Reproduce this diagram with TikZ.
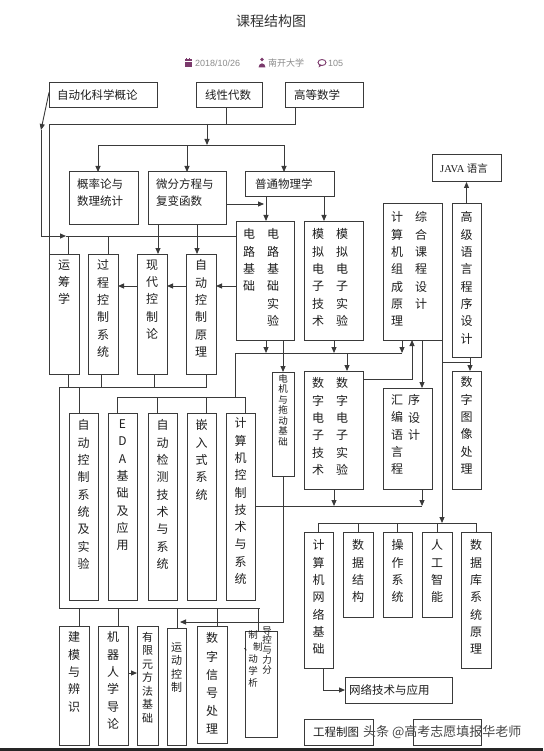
\documentclass[tikz,border=0pt]{standalone}
\usepackage{fontspec}
\setmainfont{Liberation Sans}
\newfontfamily\cjk{Noto Sans CJK SC}
\newfontfamily\serifj{Liberation Serif}
\usetikzlibrary{arrows.meta}
\definecolor{lc}{HTML}{3A3A3A}
\definecolor{tx}{HTML}{1E1E1E}
\definecolor{pu}{HTML}{7B3A6C}
\definecolor{gr}{HTML}{8C8C8C}
\newcommand\Bx[5]{\node[box, minimum width={(#4-#2)*1pt}, minimum height={(#5-#3)*1pt}] (#1) at ({(#2+#4)/2},{(#3+#5)/2}) {};}
\tikzset{
  box/.style={draw=lc, line width=1pt, inner sep=0pt, outer sep=0pt},
  vt/.style={text=tx, align=center, anchor=north, inner sep=0pt, yshift=5.4pt, font=\cjk\fontsize{12}{17.3}\selectfont},
  vts/.style={vt, yshift=5pt, font=\cjk\fontsize{11}{13.5}\selectfont},
  vtx/.style={vt, yshift=4.3pt, font=\cjk\fontsize{9.5}{10.5}\selectfont},
  ht/.style={text=tx, anchor=west, inner sep=0pt, align=left, font=\cjk\fontsize{11.5}{16.5}\selectfont},
  wire/.style={draw=lc, line width=0.9pt},
  arr/.style={wire, -{Triangle[length=6pt,width=5pt]}},
  meta/.style={text=gr, anchor=west, inner sep=0pt, font=\fontsize{9}{9}\selectfont},
}
\begin{document}
\begin{tikzpicture}[x=1pt,y=-1pt]
\useasboundingbox (0,0) rectangle (543,751);
\fill[white] (0,0) rectangle (543,751);
% title and meta
\node[text=black!80, inner sep=0pt, font=\cjk\fontsize{14}{14}\selectfont] (title) at (271,21) {课程结构图};
\fill[pu] (184.5,59.5) rectangle (191.5,67);
\draw[white, line width=0.6pt] (184.5,61.5) -- (191.5,61.5);
\fill[pu] (186,58) rectangle (187,60); \fill[pu] (189,58) rectangle (190,60);
\node[meta] (date) at (195,63) {2018/10/26};
\fill[pu] (262,59.5) circle (1.9);
\fill[pu] (258.6,67.3) arc[start angle=180, end angle=360, x radius=3.4, y radius=4];
\node[meta, font=\cjk\fontsize{9}{9}\selectfont] (uni) at (268,63) {南开大学};
\draw[pu, line width=0.9pt] (322,62.5) ellipse (4 and 3);
\fill[pu] (319.5,64.5) -- (318.5,67.5) -- (322,65.3) -- cycle;
\node[meta] (cnt) at (328,63) {105};
% top row
\Bx{auto}{49}{83}{157}{108}
\node[ht] (t-auto) at (57,95.5) {自动化科学概论};
\Bx{xxds}{196}{83}{262}{108}
\node[ht] (t-xxds) at (205,95.5) {线性代数};
\Bx{gdsx}{285}{83}{363}{108}
\node[ht] (t-gdsx) at (294,95.5) {高等数学};
% second row
\Bx{gl}{69}{172}{138}{224}
\node[ht, anchor=north west] (t-gl) at (77,179) {概率论与\\数理统计};
\Bx{wf}{148}{172}{226}{224}
\node[ht, anchor=north west] (t-wf) at (156,179) {微分方程与\\复变函数};
\Bx{wl}{245}{172}{334}{197}
\node[ht] (t-wl) at (255,184.5) {普通物理学};
\Bx{java}{432}{155}{501}{182}
\node[ht] (t-java) at (440,168.5) {{\serifj\fontsize{10.5}{10}\selectfont JAVA} {\fontsize{10.5}{10}\selectfont 语言}};
% third row
\Bx{dl}{236}{221}{294}{340}
\node[vt] (t-dl1) at (249,234) {电\\路\\基\\础};
\node[vt] (t-dl2) at (273,234) {电\\路\\基\\础\\实\\验};
\Bx{mn}{304}{221}{363}{340}
\node[vt] (t-mn1) at (318,234) {模\\拟\\电\\子\\技\\术};
\node[vt] (t-mn2) at (342,234) {模\\拟\\电\\子\\实\\验};
\Bx{jz}{383}{204}{442}{340}
\node[vt] (t-jz1) at (397,217) {计\\算\\机\\组\\成\\原\\理};
\node[vt] (t-jz2) at (421,217) {综\\合\\课\\程\\设\\计};
\Bx{gj}{452}{204}{481}{357}
\node[vt] (t-gj) at (466.5,217) {高\\级\\语\\言\\程\\序\\设\\计};
\Bx{yc}{49}{254}{79}{374}
\node[vt] (t-yc) at (64,265) {运\\筹\\学};
\Bx{gc}{88}{254}{118}{374}
\node[vt] (t-gc) at (103,265) {过\\程\\控\\制\\系\\统};
\Bx{xd}{137}{254}{167}{374}
\node[vt] (t-xd) at (152,265) {现\\代\\控\\制\\论};
\Bx{zk}{186}{254}{216}{374}
\node[vt] (t-zk) at (201,265) {自\\动\\控\\制\\原\\理};
% fourth row
\Bx{dj}{272}{372}{294}{476}
\node[vtx] (t-dj) at (283,384) {电\\机\\与\\拖\\动\\基\\础};
\Bx{sz}{304}{371}{363}{489}
\node[vt] (t-sz1) at (318,383) {数\\字\\电\\子\\技\\术};
\node[vt] (t-sz2) at (342,383) {数\\字\\电\\子\\实\\验};
\Bx{hb}{383}{388}{432}{489}
\node[vt] (t-hb1) at (397,400) {汇\\编\\语\\言\\程};
\node[vt] (t-hb2) at (414,400) {序\\设\\计};
\Bx{sx}{452}{371}{481}{489}
\node[vt] (t-sx) at (466.5,382) {数\\字\\图\\像\\处\\理};
\Bx{zx}{69}{413}{98}{600}
\node[vt] (t-zx) at (83.5,425) {自\\动\\控\\制\\系\\统\\及\\实\\验};
\Bx{eda}{108}{413}{137}{600}
\node[vt] (t-eda) at (122.5,425) {E\\D\\A\\基\\础\\及\\应\\用};
\Bx{zj}{148}{413}{177}{600}
\node[vt] (t-zj) at (162.5,425) {自\\动\\检\\测\\技\\术\\与\\系\\统};
\Bx{qr}{187}{413}{216}{600}
\node[vt] (t-qr) at (201.5,425) {嵌\\入\\式\\系\\统};
\Bx{jk}{226}{413}{255}{600}
\node[vt] (t-jk) at (240.5,423) {计\\算\\机\\控\\制\\技\\术\\与\\系\\统};
% lower right
\Bx{wlj}{304}{532}{333}{668}
\node[vt] (t-wlj) at (318.5,545) {计\\算\\机\\网\\络\\基\\础};
\Bx{sj}{343}{532}{373}{617}
\node[vt] (t-sj) at (358,545) {数\\据\\结\\构};
\Bx{cz}{383}{532}{412}{617}
\node[vt] (t-cz) at (397.5,545) {操\\作\\系\\统};
\Bx{rg}{422}{532}{452}{617}
\node[vt] (t-rg) at (437,545) {人\\工\\智\\能};
\Bx{sk}{461}{532}{491}{668}
\node[vt] (t-sk) at (476,545) {数\\据\\库\\系\\统\\原\\理};
\Bx{wj}{345}{677}{452}{703}
\node[ht] (t-wj) at (349,690) {网络技术与应用};
\Bx{gt}{304}{719}{373}{745}
\node[ht] (t-gt) at (313,732) {工程制图};
\Bx{blank}{413}{719}{481}{745}
% lower left
\Bx{jm}{59}{626}{89}{745}
\node[vt] (t-jm) at (74,637) {建\\模\\与\\辨\\识};
\Bx{jq}{98}{626}{128}{745}
\node[vt] (t-jq) at (113,637) {机\\器\\人\\学\\导\\论};
\Bx{yx}{137}{626}{158}{745}
\node[vts] (t-yx) at (147.5,642) {有\\限\\元\\方\\法\\基\\础};
\Bx{yd}{167}{628}{186}{745}
\node[vts] (t-yd) at (176.5,653) {运\\动\\控\\制};
\Bx{sx2}{197}{626}{227}{743}
\node[vt, font=\cjk\fontsize{12}{18.2}\selectfont] (t-sx2) at (212,638) {数\\字\\信\\号\\处\\理};
\Bx{dk}{245}{631}{277}{737}
\node[vtx, font=\cjk\fontsize{9.5}{9.8}\selectfont] (t-dk1) at (267,636) {导\\控\\与\\力\\分};
\node[vtx, font=\cjk\fontsize{9.5}{12}\selectfont] (t-dk2) at (253,640) {制\\、制\\动\\学\\析};
% junction coordinates
\coordinate (h1L) at (49,124);
\coordinate (busA) at (207,124);
\coordinate (busB) at (207,145);
\coordinate (kA) at (41,130);
\coordinate (kB) at (41,236);
\coordinate (kC) at (66,236);
\coordinate (pA) at (264,204);
\coordinate (lb) at (59,387);
\coordinate (lb2) at (59,608);
\coordinate (mb) at (235,353);
\coordinate (mc) at (235,397);
\coordinate (rc) at (442,362);
\coordinate (rb) at (442,523);
\coordinate (db) at (422,506);
\coordinate (mt) at (180,622);
% connectors: top
\draw[wire] (xxds.south -| 226,0) |- (h1L) -- (yc.north west);
\draw[wire] (gdsx.south -| 295,0) |- (busA);
\draw[arr] (busA) -- (busB);
\draw[arr] (busB) -| (gl.north -| 98,0);
\draw[arr] (busB) -| (wf.north -| 187,0);
\draw[arr] (busB) -| (wl.north -| 284,0);
\draw[arr] ([yshift=3pt]auto.west) -- (kA);
\draw[wire] (kA) -- (kB);
\draw[arr] (kB) -- (kC);
\draw[wire] (kC) -- (dl.west |- kB);
\draw[wire] (kB -| 68,0) -- (yc.north -| 68,0);
\draw[wire] (kB -| 108,0) -- (gc.north -| 108,0);
\draw[arr] (wf.south -| 158,0) -- (xd.north -| 158,0);
\draw[arr] (wf.south -| 197,0) -- (zk.north -| 197,0);
\draw[arr] (wf.east |- pA) -- (pA);
\draw[arr] (wl.south -| 266,0) -- (dl.north -| 266,0);
\draw[arr] (wl.south -| 324,0) -- (mn.north -| 324,0);
\draw[arr] (gj.north) -- (java.south);
\draw[arr] (dl.west |- 0,286) -- (zk.east |- 0,286);
\draw[arr] (zk.west |- 0,286) -- (xd.east |- 0,286);
\draw[arr] (xd.west |- 0,286) -- (gc.east |- 0,286);
% left bus
\draw[wire] (yc.south -| 68,0) |- (lb);
\draw[wire] (gc.south -| 101,0) |- (lb);
\draw[wire] (xd.south -| 154,0) |- (lb);
\draw[wire] (zk.south -| 206,0) |- (lb);
\draw[wire] (lb) -- (lb2);
\draw[wire] (lb -| 79,0) -- (zx.north -| 79,0);
% middle bus
\draw[arr] (dl.south -| 266,0) -- (mb -| 266,0);
\draw[arr] (mn.south -| 334,0) -- (mb -| 334,0);
\draw[arr] (jz.south -| 402,0) -- (mb -| 402,0);
\draw[wire] (mb -| 402,0) -- (mb) -- (mc);
\draw[wire] (mc) -- (mc -| 117,0);
\draw[wire] (mc -| 117,0) -- (eda.north -| 117,0);
\draw[wire] (mc -| 157,0) -- (zj.north -| 157,0);
\draw[wire] (mc -| 206,0) -- (qr.north -| 206,0);
\draw[wire] (mc) -| (jk.north -| 245,0);
\draw[arr] (mb -| 347,0) -- (sz.north -| 347,0);
\draw[arr] (dl.south -| 283,0) -- (dj.north);
\draw[arr] (sz.east |- 0,379) -| (jz.south -| 412,0);
\draw[arr] (jz.south -| 422,0) -- (hb.north -| 422,0);
\draw[arr] (gj.south -| 470,0) -- (sx.north -| 470,0);
\draw[wire] (rc) -- (rc -| 470,0);
\draw[arr] (jz.south east) -- (rb);
% bus to computer control
\draw[wire] (jk.east |- db) -- (db);
\draw[arr] (sz.south -| 334,0) -- (db -| 334,0);
\draw[arr] (hb.south -| 422,0) -- (db);
% right bus
\draw[wire] (rb -| wlj.north) -- (rb -| sk.north);
\draw[wire] (rb -| wlj.north) -- (wlj.north);
\draw[wire] (rb -| sj.north) -- (sj.north);
\draw[wire] (rb -| cz.north) -- (cz.north);
\draw[wire] (rb -| rg.north) -- (rg.north);
\draw[wire] (rb -| sk.north) -- (sk.north);
\draw[arr] (wlj.south -| 323,0) |- (wj.west);
% bottom bus
\draw[wire] (lb2) -- (lb2 -| 260,0);
\draw[wire] (lb2 -| 79,0) -- (jm.north -| 79,0);
\draw[wire] (lb2 -| 118,0) -- (jq.north -| 118,0);
\draw[wire] (lb2 -| 177,0) -- (yd.north -| 177,0);
\draw[wire] (lb2 -| 217,0) -- (sx2.north -| 217,0);
\draw[wire] (lb2 -| 258,0) -- (dk.north -| 258,0);
\draw[arr] (jq.east |- 0,673) -- (yx.west |- 0,673);
\draw[arr] (dj.south) |- (mt);
% watermark and bottom rule
\node[text=black!72, anchor=west, inner sep=0pt, font=\cjk\fontsize{13}{13}\selectfont] (wm) at (363,732) {头条 @高考志愿填报华老师};
\fill[black!85] (0,747.5) rectangle (543,751);
\end{tikzpicture}
\end{document}
